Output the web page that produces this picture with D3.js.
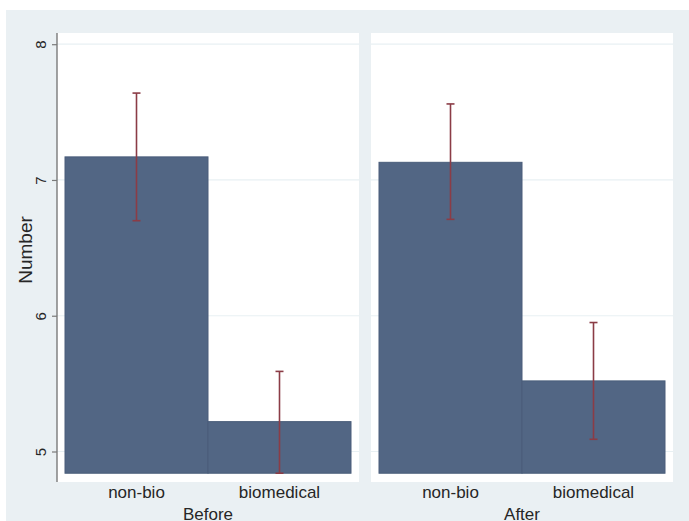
<!DOCTYPE html>
<html>
<head>
<meta charset="utf-8">
<script src="https://cdn.jsdelivr.net/npm/d3@7"></script>
<style>
  html, body { margin: 0; padding: 0; background: #ffffff; }
  svg { display: block; }
  text { font-family: "Liberation Sans", Arial, sans-serif; fill: #262626; }
</style>
</head>
<body>
<svg id="chart" width="689" height="521"></svg>
<script>
// Panels (time points) and bar categories
const panels = ["Before", "After"];
const categories = ["non-bio", "biomedical"];

// Mean number per panel, in category order
const meanBefore = [7.17, 5.22];
const meanAfter = [7.13, 5.52];

// 95% confidence interval bounds
const ciLowBefore = [6.70, 4.84];
const ciHighBefore = [7.64, 5.59];
const ciLowAfter = [6.71, 5.09];
const ciHighAfter = [7.56, 5.95];

// Y axis ticks and the lower edge the bars rise from
const yTicks = [5, 6, 7, 8];
const yBase = 4.84;

const panelData = [
  { name: panels[0], mean: meanBefore, lo: ciLowBefore, hi: ciHighBefore },
  { name: panels[1], mean: meanAfter, lo: ciLowAfter, hi: ciHighAfter }
];

const W = 689, H = 521;
const svg = d3.select("#chart");

// Graph background
svg.append("rect")
  .attr("x", 6).attr("y", 10)
  .attr("width", W - 6).attr("height", H - 10)
  .attr("fill", "#eaf0f3");

// Shared vertical scale
const y = d3.scaleLinear().domain([5, 8]).range([451.5, 44.2]);

const plotTop = 33, plotBottom = 482;
const panelLeft = [57, 371];
const panelWidth = 302;
const innerPad = 8;

panelData.forEach((p, i) => {
  const x0 = panelLeft[i];
  const g = svg.append("g");

  // Plot region
  g.append("rect")
    .attr("x", x0).attr("y", plotTop)
    .attr("width", panelWidth).attr("height", plotBottom - plotTop)
    .attr("fill", "#ffffff");

  // Horizontal grid lines
  g.selectAll("line.grid")
    .data(yTicks)
    .join("line")
    .attr("class", "grid")
    .attr("x1", x0).attr("x2", x0 + panelWidth)
    .attr("y1", d => y(d)).attr("y2", d => y(d))
    .attr("stroke", "#e8f0f3")
    .attr("stroke-width", 1.2);

  const x = d3.scaleBand()
    .domain(categories)
    .range([x0 + innerPad, x0 + panelWidth - innerPad])
    .paddingInner(0).paddingOuter(0);

  const rows = categories.map((c, j) => ({
    cat: c, mean: p.mean[j], lo: p.lo[j], hi: p.hi[j]
  }));

  // Bars
  g.selectAll("rect.bar")
    .data(rows)
    .join("rect")
    .attr("class", "bar")
    .attr("x", d => x(d.cat))
    .attr("width", x.bandwidth())
    .attr("y", d => y(d.mean))
    .attr("height", d => y(yBase) - y(d.mean))
    .attr("fill", "#526684")
    .attr("stroke", "#4a5d7a")
    .attr("stroke-width", 1);

  // Confidence interval caps
  const cap = 4;
  const ci = g.selectAll("g.ci").data(rows).join("g").attr("class", "ci")
    .attr("stroke", "#8b3c46").attr("stroke-width", 1.6);
  ci.append("line")
    .attr("x1", d => x(d.cat) + x.bandwidth() / 2)
    .attr("x2", d => x(d.cat) + x.bandwidth() / 2)
    .attr("y1", d => y(d.lo)).attr("y2", d => y(d.hi));
  ci.append("line")
    .attr("x1", d => x(d.cat) + x.bandwidth() / 2 - cap)
    .attr("x2", d => x(d.cat) + x.bandwidth() / 2 + cap)
    .attr("y1", d => y(d.hi)).attr("y2", d => y(d.hi));
  ci.append("line")
    .attr("x1", d => x(d.cat) + x.bandwidth() / 2 - cap)
    .attr("x2", d => x(d.cat) + x.bandwidth() / 2 + cap)
    .attr("y1", d => y(d.lo)).attr("y2", d => y(d.lo));

  // Category labels
  g.selectAll("text.cat")
    .data(categories)
    .join("text")
    .attr("class", "cat")
    .attr("x", d => x(d) + x.bandwidth() / 2)
    .attr("y", 498)
    .attr("text-anchor", "middle")
    .attr("font-size", 17)
    .text(d => d);

  // Panel title
  g.append("text")
    .attr("x", x0 + panelWidth / 2)
    .attr("y", 520)
    .attr("text-anchor", "middle")
    .attr("font-size", 17)
    .text(p.name);
});

// Y axis on the first panel
const axis = svg.append("g")
  .attr("transform", `translate(${panelLeft[0]},0)`)
  .call(d3.axisLeft(y).tickValues(yTicks).tickSize(5).tickPadding(6).tickFormat(d3.format("d")));
axis.select(".domain").remove();
axis.selectAll(".tick line").attr("stroke", "#7a7a7a").attr("stroke-width", 1.2);
axis.selectAll(".tick text")
  .attr("font-size", 15)
  .attr("font-family", "Liberation Sans, Arial, sans-serif")
  .attr("fill", "#262626")
  .attr("x", null).attr("dy", null)
  .attr("text-anchor", "middle")
  .attr("transform", "translate(-11.5,0) rotate(-90)");
axis.append("line")
  .attr("x1", 0).attr("x2", 0)
  .attr("y1", plotTop).attr("y2", plotBottom)
  .attr("stroke", "#7a7a7a").attr("stroke-width", 1.4);

// Y axis title
svg.append("text")
  .attr("transform", "translate(32,250) rotate(-90)")
  .attr("text-anchor", "middle")
  .attr("font-size", 19)
  .text("Number");
</script>
</body>
</html>
